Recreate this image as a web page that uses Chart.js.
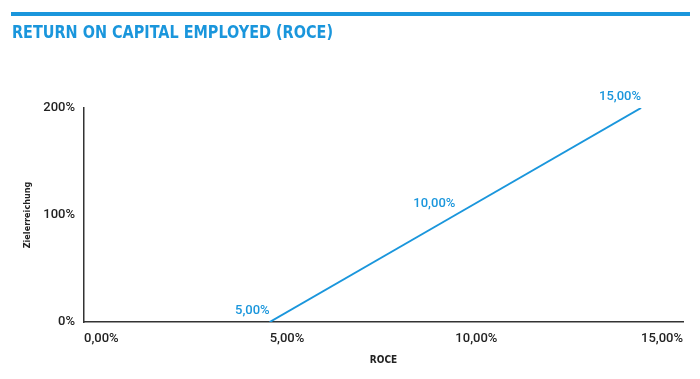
<!DOCTYPE html>
<html><head><meta charset="utf-8">
<script src="https://cdn.jsdelivr.net/npm/chart.js@4/dist/chart.umd.min.js"></script>
<style>html,body{margin:0;padding:0;background:#fff}#wrap{width:700px;height:379px;position:relative}canvas{display:block}</style>
</head><body><div id="wrap"><canvas id="c" width="700" height="379"></canvas></div>
<script>
const chartTitle = 'RETURN ON CAPITAL EMPLOYED (ROCE)';
const roceValues = [5, 10, 15];
const targetAchievement = [0, 100, 200];
const pointLabels = ['5,00%', '10,00%', '15,00%'];
const xTicks = [0, 5, 10, 15];
const yTicks = [0, 100, 200];
const xAxisTitle = 'ROCE';
const yAxisTitle = 'Zielerreichung';
const blue = '#1a96dc';
const dark = '#222';

const headerPlugin = {
  id: 'header',
  beforeDraw(chart) {
    const c = chart.ctx;
    c.save();
    c.fillStyle = '#fff';
    c.fillRect(0, 0, chart.width, chart.height);
    c.fillStyle = blue;
    c.fillRect(11, 12, 679, 4);
    c.font = "bold 18px 'DejaVu Sans Condensed', 'DejaVu Sans'";
    c.textAlign = 'left';
    c.textBaseline = 'alphabetic';
    c.fillText(chartTitle, 12, 38, 321);
    c.restore();
  },
  afterDatasetsDraw(chart) {
    const c = chart.ctx;
    const meta = chart.getDatasetMeta(0);
    c.save();
    c.fillStyle = blue;
    c.font = "500 13px Roboto";
    c.textAlign = 'right';
    c.textBaseline = 'alphabetic';
    meta.data.forEach((el, i) => {
      c.fillText(pointLabels[i], el.x, el.y - 8);
    });
    c.restore();
  }
};

new Chart(document.getElementById('c'), {
  type: 'line',
  data: {
    datasets: [{
      data: roceValues.map((x, i) => ({ x: x, y: targetAchievement[i] })),
      borderColor: blue,
      borderWidth: 2,
      pointRadius: 0,
      fill: false,
      tension: 0
    }]
  },
  options: {
    responsive: false,
    animation: false,
    devicePixelRatio: 1,
    layout: { padding: { top: 108, right: 17, bottom: 0, left: 0 } },
    plugins: { legend: { display: false }, tooltip: { enabled: false }, title: { display: false } },
    scales: {
      x: {
        type: 'linear',
        min: 0,
        max: 16.13,
        afterBuildTicks: s => { s.ticks = xTicks.map(v => ({ value: v })); },
        afterFit: s => { s.height = 57; },
        grid: { display: false, drawTicks: false },
        border: { display: true, color: '#333', width: 1.5 },
        ticks: {
          align: 'start',
          padding: 9,
          color: dark,
          font: { family: 'Roboto', size: 13, weight: '500' },
          callback: v => v.toFixed(2).replace('.', ',') + '%'
        },
        title: {
          display: true, text: xAxisTitle, color: dark,
          font: { family: "'DejaVu Sans Condensed', 'DejaVu Sans'", size: 10, weight: 'bold' },
          padding: { top: 0, bottom: 13 }
        }
      },
      y: {
        type: 'linear',
        min: 0,
        max: 200,
        afterBuildTicks: s => { s.ticks = yTicks.map(v => ({ value: v })); },
        afterFit: s => { s.width = 84; },
        grid: { display: false, drawTicks: false },
        border: { display: true, color: '#333', width: 1.5 },
        ticks: {
          padding: 9,
          color: dark,
          font: { family: 'Roboto', size: 13, weight: '500' },
          callback: v => v + '%'
        },
        title: {
          display: true, text: yAxisTitle, color: dark,
          font: { family: "'DejaVu Sans Condensed', 'DejaVu Sans'", size: 9, weight: 'bold' },
          padding: { top: 22, bottom: 0 }
        }
      }
    }
  },
  plugins: [headerPlugin]
});
</script>
</body></html>
